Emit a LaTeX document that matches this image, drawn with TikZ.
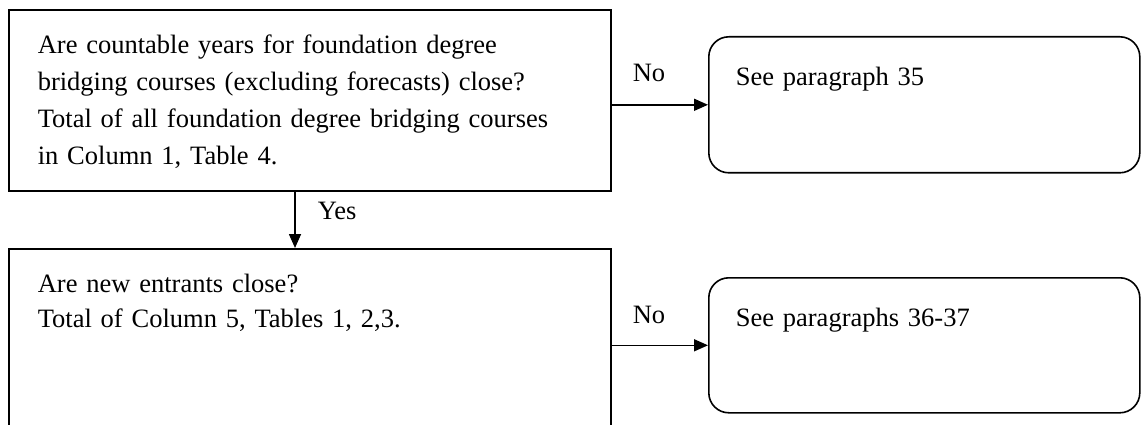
\documentclass[tikz,border=0pt]{standalone}
\usepackage{fontspec}
\setmainfont{Liberation Serif}
\usetikzlibrary{arrows.meta}
\begin{document}
\begin{tikzpicture}[x=1pt,y=-1pt,line width=1.6pt,
  qbox/.style={draw,rectangle,inner sep=0pt,anchor=north west},
  rbox/.style={draw,rectangle,rounded corners=20pt,inner sep=0pt,anchor=north west},
  txt/.style={anchor=base west,inner sep=0pt,align=left,text width=590pt,font=\fontsize{26.5}{36.8}\selectfont},
  lbl/.style={anchor=base west,inner sep=0pt,font=\fontsize{26.5}{30}\selectfont},
  arr/.style={-{Triangle[length=14pt,width=12pt]}}]
\useasboundingbox (0,0) rectangle (1141,425);
\clip (0,0) rectangle (1141,425);
% boxes
\node[qbox,minimum width=602pt,minimum height=181pt] (box1) at (8,9) {};
\node[qbox,minimum width=602pt,minimum height=260pt] (box2) at (8,248) {};
\node[rbox,minimum width=431pt,minimum height=136pt] (round1) at (708,36) {};
\node[rbox,minimum width=431pt,minimum height=135pt] (round2) at (708,277) {};
% texts
\node[txt] (t1) at (37,54) {Are countable years for foundation degree\\bridging courses (excluding forecasts) close?\\Total of all foundation degree bridging courses\\in Column 1, Table 4.};
\node[txt,font=\fontsize{26.5}{35}\selectfont] (t2) at (37,292) {Are new entrants close?\\Total of Column 5, Tables 1, 2,3.};
\node[txt,text width=380pt] (t3) at (735,86) {See paragraph 35};
\node[txt,text width=380pt] (t4) at (735,326) {See paragraphs 36-37};
% connectors
\coordinate (yx) at (295,0);
\draw[arr] (round1.west -| box1.east) -- (round1.west);
\draw[arr] (round2.west -| box2.east) -- (round2.west);
\draw[arr] (box1.south -| yx) -- (box2.north -| yx);
% labels
\node[lbl] (no1) at (632,82) {No};
\node[lbl] (no2) at (632,323) {No};
\node[lbl] (yes) at (317,219) {Yes};
\end{tikzpicture}
\end{document}
